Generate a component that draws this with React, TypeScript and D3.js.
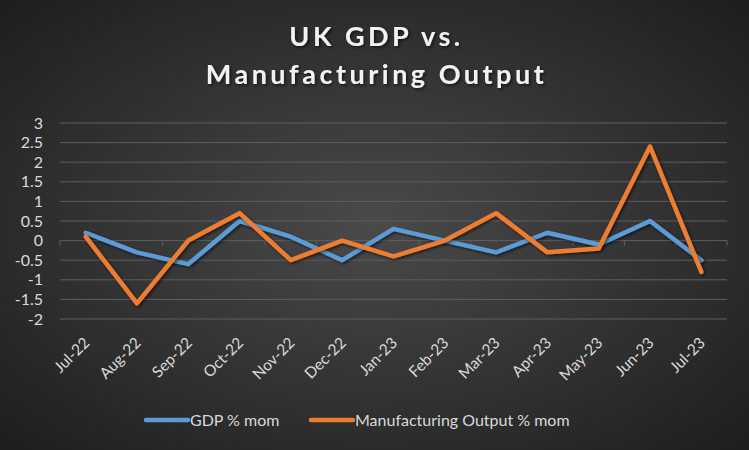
import React, { useEffect, useRef } from 'react'
import * as d3 from 'd3'

const months = ['Jul-22', 'Aug-22', 'Sep-22', 'Oct-22', 'Nov-22', 'Dec-22', 'Jan-23', 'Feb-23', 'Mar-23', 'Apr-23', 'May-23', 'Jun-23', 'Jul-23']
const gdp = [0.2, -0.3, -0.6, 0.5, 0.1, -0.5, 0.3, 0.0, -0.3, 0.2, -0.1, 0.5, -0.5]
const manufacturing = [0.1, -1.6, 0.0, 0.7, -0.5, 0.0, -0.4, 0.0, 0.7, -0.3, -0.2, 2.4, -0.8]
const yTicks = [3, 2.5, 2, 1.5, 1, 0.5, 0, -0.5, -1, -1.5, -2]
const seriesNames = ['GDP % mom', 'Manufacturing Output % mom']
const seriesColors = ['#5b9bd5', '#ed7d31']

const W = 749
const H = 450
const margin = { top: 123, right: 22, bottom: 131, left: 60 }
const font = 'Lato, "Open Sans", sans-serif'

const Chart = () => {
  const ref = useRef<SVGSVGElement>(null)

  useEffect(() => {
    const svg = d3.select(ref.current)
    svg.selectAll('*').remove()

    const defs = svg.append('defs')
    const grad = defs.append('radialGradient').attr('id', 'bg').attr('cx', '50%').attr('cy', '50%').attr('r', '70%')
    grad.append('stop').attr('offset', '0%').attr('stop-color', '#4a4a4a')
    grad.append('stop').attr('offset', '100%').attr('stop-color', '#1e1e1e')
    const shadow = defs.append('filter').attr('id', 'shadow').attr('x', '-10%').attr('y', '-10%').attr('width', '120%').attr('height', '120%')
    shadow.append('feDropShadow').attr('dx', 1.5).attr('dy', 1.5).attr('stdDeviation', 1.5).attr('flood-color', '#000').attr('flood-opacity', 0.6)

    svg.append('rect').attr('width', W).attr('height', H).attr('fill', 'url(#bg)')

    const boundedWidth = W - margin.left - margin.right
    const boundedHeight = H - margin.top - margin.bottom

    const x = d3.scaleBand<string>().domain(months).range([0, boundedWidth])
    const y = d3.scaleLinear().domain([-2, 3]).range([boundedHeight, 0])

    const bounds = svg.append('g').attr('transform', `translate(${margin.left},${margin.top})`)

    // gridlines
    bounds
      .selectAll('.grid')
      .data(yTicks)
      .join('line')
      .attr('x1', 0)
      .attr('x2', boundedWidth)
      .attr('y1', d => y(d))
      .attr('y2', d => y(d))
      .attr('stroke', '#5e5e5e')
      .attr('stroke-width', 1)

    // zero axis with ticks between categories
    bounds
      .selectAll('.tick-mark')
      .data(d3.range(months.length + 1))
      .join('line')
      .attr('x1', i => i * x.bandwidth())
      .attr('x2', i => i * x.bandwidth())
      .attr('y1', y(0))
      .attr('y2', y(0) + 5)
      .attr('stroke', '#5e5e5e')

    // y labels
    bounds
      .selectAll('.ylab')
      .data(yTicks)
      .join('text')
      .attr('x', -17)
      .attr('y', d => y(d))
      .attr('dy', '0.35em')
      .attr('text-anchor', 'end')
      .attr('fill', '#d9d9d9')
      .style('font-family', font)
      .style('font-size', '16px')
      .text(d => String(d))

    // x labels
    bounds
      .selectAll('.xlab')
      .data(months)
      .join('text')
      .attr('transform', d => `translate(${(x(d) ?? 0) + x.bandwidth() / 2 + 1},${boundedHeight + 21}) rotate(-45)`)
      .attr('text-anchor', 'end')
      .attr('dy', '0.35em')
      .attr('fill', '#d9d9d9')
      .style('font-family', font)
      .style('font-size', '15.5px')
      .text(d => d)

    const line = d3
      .line<number>()
      .x((_, i) => (x(months[i]) ?? 0) + x.bandwidth() / 2)
      .y(d => y(d))

    ;[gdp, manufacturing].forEach((values, k) => {
      bounds
        .append('path')
        .datum(values)
        .attr('d', line)
        .attr('fill', 'none')
        .attr('stroke', seriesColors[k])
        .attr('stroke-width', 4.5)
        .attr('stroke-linejoin', 'round')
        .attr('stroke-linecap', 'round')
        .attr('filter', 'url(#shadow)')
    })

    // title
    const title = svg
      .append('text')
      .attr('text-anchor', 'middle')
      .attr('fill', '#f2f2f2')
      .attr('filter', 'url(#shadow)')
      .style('font-family', font)
      .style('font-size', '27px')
      .style('font-weight', 'bold')
      .style('letter-spacing', '3.5px')
    title.append('tspan').attr('x', W / 2 + 2).attr('y', 46).text('UK GDP vs.')
    title.append('tspan').attr('x', W / 2 + 2).attr('y', 84).text('Manufacturing Output')

    // legend
    const legendX = [146, 311]
    seriesNames.forEach((name, k) => {
      const g = svg.append('g').attr('transform', `translate(${legendX[k]},420)`)
      g.append('line')
        .attr('x1', 0)
        .attr('x2', 42)
        .attr('y1', 0)
        .attr('y2', 0)
        .attr('stroke', seriesColors[k])
        .attr('stroke-width', 4.5)
        .attr('stroke-linecap', 'round')
      g.append('text')
        .attr('x', 44)
        .attr('dy', '0.35em')
        .attr('fill', '#d9d9d9')
        .style('font-family', font)
        .style('font-size', '16px')
        .text(name)
    })
  }, [])

  return <svg ref={ref} width={W} height={H} style={{ position: 'absolute', left: 0, top: 0, display: 'block' }} />
}

export default function App() {
  return <Chart />
}
